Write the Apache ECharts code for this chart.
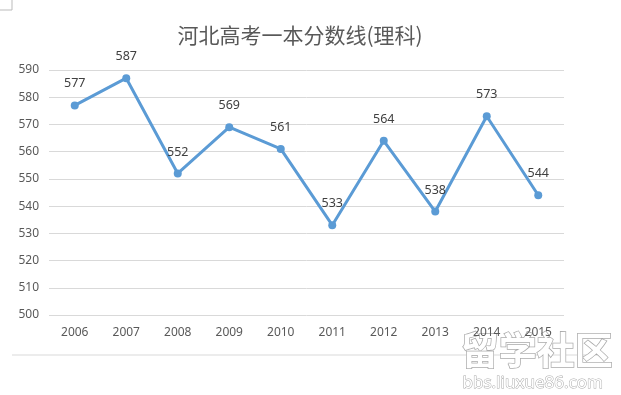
<!DOCTYPE html>
<html><head><meta charset="utf-8">
<script src="https://cdn.jsdelivr.net/npm/echarts@6/dist/echarts.min.js"></script>
<style>html,body{margin:0;padding:0;background:#fff}#c{width:621px;height:395px}</style>
</head><body><div id="c"></div>
<script>
const categories = ['2006','2007','2008','2009','2010','2011','2012','2013','2014','2015'];
const scores = [577, 587, 552, 569, 561, 533, 564, 538, 573, 544];
const titleText = '河北高考一本分数线(理科)';

const chart = echarts.init(document.getElementById('c'));
chart.setOption({
  backgroundColor: '#fff',
  animation: false,
  title: {
    text: titleText, left: 295, top: 20, textAlign: 'center',
    textStyle: {fontFamily: 'Noto Sans CJK SC', fontSize: 21, fontWeight: 'normal', color: '#595959'}
  },
  grid: {left: 49, right: 57, top: 70, bottom: 80},
  xAxis: {
    type: 'category', data: categories, boundaryGap: true,
    axisLine: {show: false}, axisTick: {show: false},
    axisLabel: {color: '#595959', fontSize: 12, margin: 12, fontFamily: 'Noto Sans'}
  },
  yAxis: {
    type: 'value', min: 500, max: 590, interval: 10,
    axisLine: {show: false}, axisTick: {show: false},
    axisLabel: {color: '#595959', fontSize: 12, margin: 10, fontFamily: 'Noto Sans'},
    splitLine: {lineStyle: {color: '#d9d9d9', width: 1}}
  },
  series: [{
    type: 'line', data: scores,
    lineStyle: {color: '#5B9BD5', width: 3},
    itemStyle: {color: '#5B9BD5'},
    symbol: 'circle', symbolSize: 8,
    label: {show: true, position: 'top', distance: 11, color: '#404040', fontSize: 12.5, fontFamily: 'Noto Sans'}
  }],
  graphic: [
    {type: 'line', shape: {x1: 12, y1: 355, x2: 600, y2: 355}, style: {stroke: '#d9d9d9', lineWidth: 1}},
    {type: 'line', shape: {x1: 12, y1: 0, x2: 12, y2: 10}, style: {stroke: '#bbb', lineWidth: 1}},
    {type: 'line', shape: {x1: 0, y1: 10, x2: 12, y2: 10}, style: {stroke: '#bbb', lineWidth: 1}},
    {type: 'text', left: 460, top: 330, style: {text: '留学社区', fontSize: 38, fontWeight: 'bold', fontFamily: 'Noto Sans CJK SC', fill: '#fff', stroke: '#aaa', lineWidth: 1.5}},
    {type: 'text', left: 462, top: 374, style: {text: 'bbs.liuxue86.com', fontSize: 17, fontFamily: 'Noto Sans', fill: '#fff', stroke: '#aaa', lineWidth: 1}}
  ]
});
</script></body></html>
